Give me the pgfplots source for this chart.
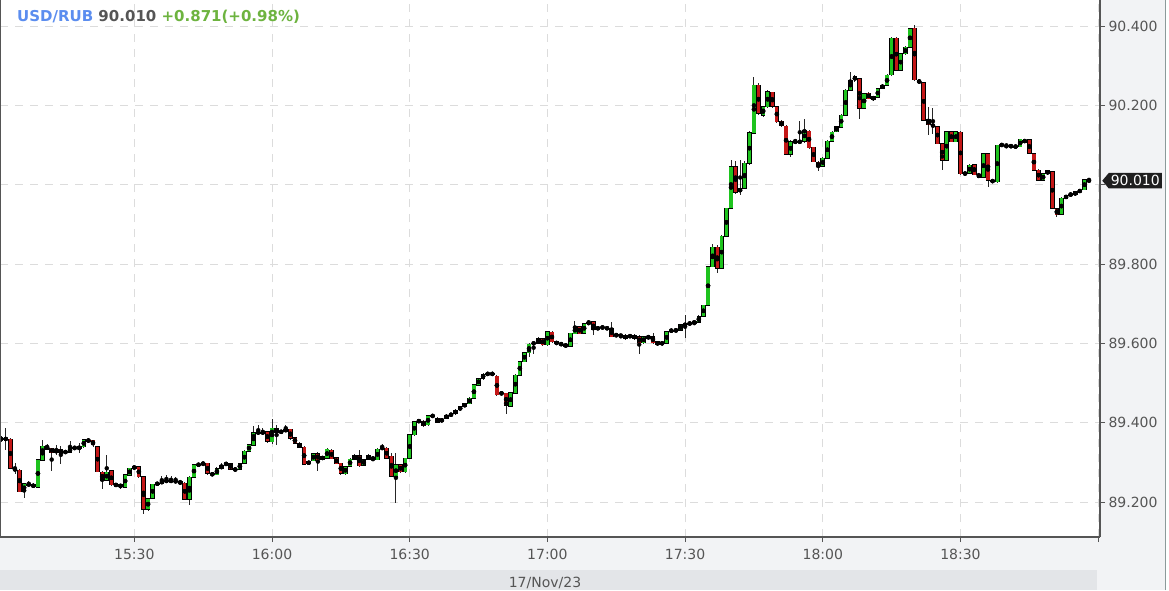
\documentclass[border=0pt]{standalone}
\usepackage{pgfplots}
\pgfplotsset{compat=1.18}
\usepackage{pgfplotstable}
\usepackage{fontspec}
\setmainfont{DejaVu Sans}
\usetikzlibrary{shapes.symbols}

\definecolor{upc}{HTML}{1EC31E}
\definecolor{dnc}{HTML}{C41717}
\definecolor{panel}{HTML}{F2F3F5}
\definecolor{band}{HTML}{E3E5E8}
\definecolor{tickc}{HTML}{555555}
\definecolor{gridc}{HTML}{DCDCDC}
\definecolor{edgec}{HTML}{8C9A9A}
\definecolor{titleblue}{HTML}{5B8DEF}
\definecolor{titlegreen}{HTML}{6DB33F}

% one-minute candles, x = minutes after 15:00
\pgfplotstableread{
x o h l c
2 89.358 89.386 89.332 89.362
6 89.227 89.248 89.210 89.246
9 89.238 89.309 89.236 89.307
10 89.307 89.357 89.305 89.342
13 89.324 89.345 89.320 89.332
15 89.326 89.332 89.322 89.327
16 89.327 89.353 89.325 89.338
18 89.336 89.350 89.323 89.340
19 89.340 89.360 89.338 89.357
24 89.256 89.319 89.254 89.277
26 89.244 89.247 89.240 89.244
28 89.238 89.271 89.236 89.269
29 89.269 89.288 89.266 89.286
30 89.286 89.292 89.284 89.290
33 89.183 89.212 89.178 89.210
34 89.210 89.247 89.208 89.246
35 89.246 89.250 89.242 89.247
36 89.247 89.265 89.245 89.255
42 89.207 89.265 89.193 89.263
43 89.263 89.296 89.260 89.294
44 89.294 89.299 89.292 89.297
45 89.297 89.300 89.294 89.298
48 89.270 89.288 89.268 89.285
49 89.285 89.298 89.283 89.294
50 89.294 89.300 89.292 89.298
52 89.283 89.287 89.279 89.284
53 89.284 89.300 89.282 89.298
54 89.298 89.330 89.296 89.328
55 89.328 89.346 89.326 89.344
56 89.344 89.392 89.342 89.376
58 89.375 89.386 89.368 89.377
60 89.353 89.410 89.346 89.386
62 89.377 89.381 89.374 89.378
63 89.380 89.395 89.378 89.384
68 89.297 89.305 89.294 89.303
69 89.305 89.324 89.303 89.322
71 89.308 89.318 89.306 89.315
72 89.311 89.336 89.309 89.334
76 89.273 89.292 89.270 89.290
77 89.290 89.310 89.288 89.308
78 89.308 89.320 89.306 89.318
80 89.294 89.310 89.292 89.308
81 89.308 89.322 89.306 89.318
83 89.308 89.336 89.306 89.334
84 89.336 89.345 89.333 89.337
87 89.265 89.324 89.199 89.294
89 89.277 89.313 89.275 89.311
90 89.311 89.372 89.309 89.370
91 89.370 89.405 89.368 89.403
92 89.403 89.410 89.400 89.407
94 89.395 89.420 89.393 89.418
97 89.405 89.410 89.403 89.408
98 89.412 89.422 89.410 89.420
99 89.418 89.426 89.416 89.424
100 89.424 89.435 89.422 89.433
101 89.433 89.443 89.431 89.441
102 89.441 89.450 89.439 89.448
103 89.448 89.464 89.446 89.462
104 89.462 89.498 89.460 89.496
105 89.496 89.514 89.494 89.512
106 89.512 89.527 89.510 89.523
110 89.474 89.478 89.472 89.475
112 89.441 89.477 89.439 89.475
113 89.475 89.523 89.473 89.521
114 89.521 89.557 89.519 89.555
115 89.555 89.579 89.553 89.577
116 89.577 89.602 89.566 89.599
117 89.600 89.605 89.574 89.601
118 89.601 89.616 89.599 89.613
120 89.597 89.633 89.595 89.630
125 89.594 89.628 89.592 89.626
126 89.626 89.655 89.624 89.643
128 89.626 89.652 89.624 89.650
129 89.650 89.661 89.648 89.654
131 89.636 89.642 89.635 89.640
132 89.640 89.643 89.637 89.640
135 89.620 89.623 89.618 89.622
136 89.619 89.622 89.617 89.619
138 89.619 89.622 89.616 89.619
141 89.601 89.620 89.599 89.617
142 89.613 89.622 89.611 89.619
145 89.600 89.603 89.598 89.601
146 89.601 89.632 89.599 89.630
147 89.632 89.635 89.630 89.633
148 89.633 89.636 89.630 89.634
149 89.634 89.649 89.632 89.647
150 89.646 89.672 89.613 89.650
151 89.650 89.656 89.645 89.651
152 89.651 89.658 89.646 89.655
153 89.655 89.672 89.653 89.669
154 89.669 89.698 89.667 89.697
155 89.697 89.796 89.695 89.794
156 89.794 89.850 89.792 89.843
158 89.790 89.872 89.788 89.871
159 89.871 89.942 89.869 89.941
160 89.941 90.063 89.939 90.046
162 89.983 90.063 89.975 89.990
163 89.991 90.060 89.988 90.054
164 90.054 90.135 90.050 90.131
165 90.131 90.272 90.129 90.251
167 90.176 90.199 90.172 90.197
168 90.197 90.238 90.195 90.235
173 90.078 90.112 90.070 90.109
175 90.108 90.160 90.105 90.110
176 90.110 90.167 90.106 90.136
180 90.047 90.069 90.044 90.067
181 90.067 90.113 90.065 90.111
182 90.111 90.136 90.109 90.134
183 90.134 90.148 90.132 90.146
184 90.146 90.178 90.144 90.176
185 90.176 90.241 90.174 90.239
186 90.239 90.285 90.237 90.264
187 90.264 90.278 90.260 90.272
189 90.193 90.232 90.191 90.230
191 90.214 90.224 90.212 90.222
192 90.222 90.245 90.220 90.243
193 90.243 90.253 90.241 90.251
194 90.251 90.279 90.249 90.277
195 90.277 90.371 90.275 90.369
197 90.289 90.333 90.287 90.331
198 90.331 90.350 90.329 90.348
199 90.348 90.396 90.346 90.394
207 90.062 90.136 90.060 90.134
209 90.109 90.136 90.107 90.134
211 90.029 90.032 90.026 90.030
212 90.030 90.052 90.028 90.050
215 90.020 90.081 90.018 90.079
218 90.008 90.102 90.006 90.100
219 90.100 90.104 90.098 90.101
223 90.096 90.116 90.094 90.114
224 90.108 90.115 90.106 90.113
228 90.012 90.031 90.010 90.029
229 90.029 90.038 90.027 90.036
232 89.926 89.968 89.924 89.966
233 89.966 89.976 89.964 89.974
234 89.974 89.978 89.972 89.976
235 89.976 89.985 89.974 89.983
236 89.983 89.989 89.981 89.987
237 89.987 90.014 89.985 90.012
}\candup

\pgfplotstableread{
x o h l c
1 89.362 89.368 89.352 89.358
3 89.359 89.362 89.285 89.286
4 89.286 89.300 89.272 89.281
5 89.282 89.284 89.226 89.227
7 89.246 89.252 89.240 89.244
8 89.244 89.248 89.236 89.238
11 89.342 89.346 89.332 89.334
12 89.336 89.338 89.278 89.324
14 89.334 89.342 89.298 89.324
17 89.338 89.342 89.333 89.336
20 89.357 89.362 89.350 89.355
21 89.355 89.358 89.340 89.344
22 89.340 89.342 89.275 89.277
23 89.277 89.280 89.235 89.256
25 89.279 89.282 89.242 89.244
27 89.244 89.246 89.234 89.238
31 89.290 89.291 89.262 89.265
32 89.265 89.266 89.172 89.183
37 89.255 89.268 89.250 89.254
38 89.254 89.266 89.249 89.253
39 89.253 89.263 89.250 89.252
40 89.253 89.256 89.245 89.246
41 89.248 89.250 89.205 89.208
46 89.298 89.300 89.270 89.273
47 89.273 89.276 89.266 89.270
51 89.297 89.299 89.281 89.283
57 89.376 89.395 89.370 89.375
59 89.377 89.380 89.350 89.353
61 89.388 89.395 89.345 89.377
64 89.384 89.386 89.358 89.361
65 89.362 89.364 89.347 89.349
66 89.350 89.352 89.336 89.339
67 89.340 89.342 89.294 89.297
70 89.322 89.326 89.280 89.307
73 89.332 89.334 89.309 89.311
74 89.311 89.313 89.295 89.297
75 89.298 89.300 89.270 89.273
79 89.318 89.332 89.290 89.292
82 89.312 89.314 89.305 89.308
85 89.336 89.338 89.309 89.311
86 89.315 89.324 89.262 89.265
88 89.294 89.298 89.275 89.277
93 89.405 89.408 89.390 89.393
95 89.418 89.422 89.413 89.416
96 89.412 89.414 89.399 89.401
107 89.525 89.528 89.521 89.524
108 89.524 89.527 89.520 89.523
109 89.518 89.520 89.469 89.471
111 89.475 89.477 89.423 89.445
119 89.613 89.616 89.595 89.597
121 89.630 89.632 89.603 89.605
122 89.605 89.607 89.598 89.600
123 89.601 89.603 89.596 89.598
124 89.598 89.600 89.588 89.594
127 89.643 89.645 89.624 89.626
130 89.654 89.656 89.620 89.634
133 89.639 89.641 89.636 89.638
134 89.639 89.655 89.615 89.618
137 89.622 89.624 89.611 89.613
139 89.622 89.624 89.611 89.613
140 89.617 89.621 89.574 89.601
143 89.617 89.628 89.600 89.602
144 89.605 89.607 89.595 89.597
157 89.843 89.848 89.777 89.790
161 90.046 90.060 89.978 89.983
166 90.251 90.256 90.177 90.180
169 90.232 90.234 90.194 90.197
170 90.197 90.200 90.157 90.159
171 90.159 90.162 90.145 90.148
172 90.148 90.150 90.075 90.078
174 90.109 90.115 90.105 90.108
177 90.136 90.140 90.092 90.094
178 90.094 90.096 90.056 90.058
179 90.058 90.060 90.036 90.047
188 90.268 90.271 90.167 90.193
190 90.232 90.234 90.216 90.218
196 90.369 90.372 90.287 90.289
200 90.394 90.405 90.262 90.264
201 90.264 90.267 90.255 90.257
202 90.257 90.259 90.161 90.163
203 90.163 90.197 90.126 90.151
204 90.151 90.193 90.128 90.147
205 90.147 90.149 90.102 90.104
206 90.104 90.106 90.039 90.062
208 90.134 90.136 90.107 90.109
210 90.134 90.136 90.027 90.029
213 90.050 90.052 90.023 90.025
214 90.027 90.030 90.018 90.020
216 90.079 90.081 89.995 90.012
217 90.012 90.014 90.006 90.008
220 90.099 90.103 90.097 90.098
221 90.098 90.102 90.095 90.097
222 90.097 90.100 90.094 90.096
225 90.113 90.115 90.077 90.079
226 90.079 90.081 90.035 90.037
227 90.037 90.039 90.010 90.012
230 90.033 90.035 89.939 89.941
231 89.941 89.943 89.920 89.926
238 90.012 90.015 90.009 90.010
}\canddn

\pgfplotsset{
  candle/.style 2 args={only marks, mark=none, forget plot,
    error bars/y dir=both, error bars/y explicit, error bars/error mark=none,
    error bars/error bar style={draw=#1, line width=#2}},
}

\begin{document}
\begin{tikzpicture}[x=1pt, y=1pt]
\useasboundingbox (0,-53) rectangle (1169,537);
% panels round the plot
\fill[panel] (0,-33) rectangle (1165,0);
\fill[panel] (1100,0) rectangle (1165,537);
\fill[band] (0,-53) rectangle (1097,-33);
\fill[panel] (1097,-53) rectangle (1165,-33);
\draw[edgec, line width=1pt] (1165,-53) -- (1165,537);
\node[anchor=base, font=\fontsize{14}{16}\selectfont, text=tickc] at (545,-50) {17/Nov/23};

\begin{axis}[
  at={(0,0)}, anchor=south west,
  scale only axis, width=1100pt, height=537pt,
  xmin=0.74, xmax=240.4, ymin=89.1118, ymax=90.4655,
  axis x line*=bottom, axis y line*=right,
  axis line style={draw=tickc, line width=1.3pt},
  xtick={30,60,90,120,150,180,210,240},
  xticklabels={15:30,16:00,16:30,17:00,17:30,18:00,18:30,},
  ytick={89.2,89.4,89.6,89.8,90.0,90.2,90.4},
  yticklabels={89.200,89.400,89.600,89.800,,90.200,90.400},
  tick align=outside, major tick length=5pt,
  tick style={draw=tickc, line width=0.8pt},
  grid=major,
  major grid style={draw=gridc, line width=0.8pt, dash pattern=on 8pt off 7pt},
  tick label style={font=\fontsize{14}{16}\selectfont, text=tickc},
  xticklabel style={yshift=-4pt},
  after end axis/.code={
    \draw[draw=tickc, line width=1.6pt] (rel axis cs:0,0) -- (rel axis cs:0,1);
    \node[anchor=base west, inner sep=0pt, xshift=17pt, yshift=-22pt,
      font=\fontsize{15}{17}\selectfont\bfseries] at (rel axis cs:0,1)
      {\textcolor{titleblue}{USD/RUB} \textcolor{tickc}{90.010} \textcolor{titlegreen}{+0.871(+0.98\%)}};
    \node[signal, signal to=west, signal pointer angle=100, fill=black!88, text=white,
      inner xsep=2pt, inner ysep=2.5pt, anchor=west, xshift=2pt,
      font=\fontsize{14}{16}\selectfont] at (axis cs:240.4,90.010) {90.010};
  },
]
% wicks
\addplot[candle={black!85}{0.9pt}] table[x=x, y expr=(\thisrow{h}+\thisrow{l})/2, y error expr=(\thisrow{h}-\thisrow{l})/2] \candup;
\addplot[candle={black!85}{0.9pt}] table[x=x, y expr=(\thisrow{h}+\thisrow{l})/2, y error expr=(\thisrow{h}-\thisrow{l})/2] \canddn;
% body outlines
\addplot[candle={black}{4.6pt}] table[x=x, y expr=(\thisrow{o}+\thisrow{c})/2, y error expr=abs(\thisrow{c}-\thisrow{o})/2+0.0013] \candup;
\addplot[candle={black}{4.6pt}] table[x=x, y expr=(\thisrow{o}+\thisrow{c})/2, y error expr=abs(\thisrow{c}-\thisrow{o})/2+0.0013] \canddn;
% body fills
\addplot[candle={upc}{3.2pt}] table[x=x, y expr=(\thisrow{o}+\thisrow{c})/2, y error expr=abs(\thisrow{c}-\thisrow{o})/2] \candup;
\addplot[candle={dnc}{3.2pt}] table[x=x, y expr=(\thisrow{o}+\thisrow{c})/2, y error expr=abs(\thisrow{c}-\thisrow{o})/2] \canddn;
\end{axis}
\end{tikzpicture}
\end{document}
